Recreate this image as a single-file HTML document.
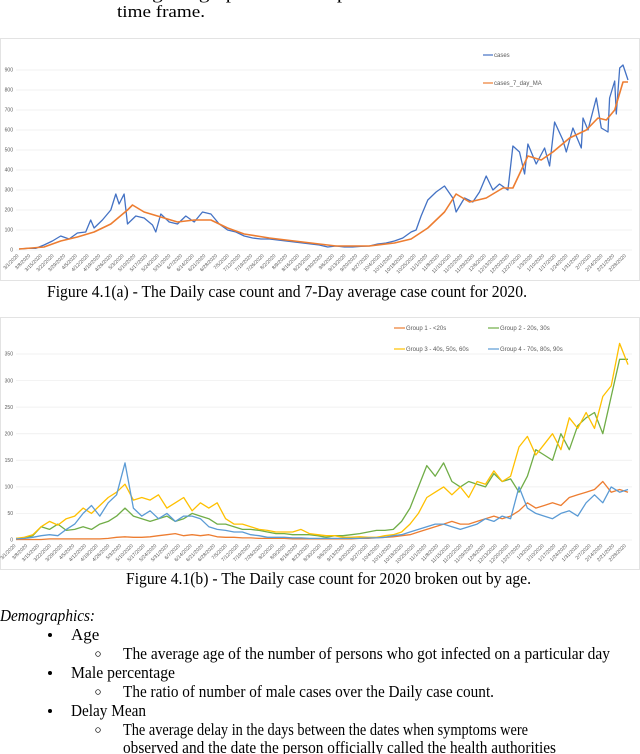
<!DOCTYPE html>
<html><head><meta charset="utf-8"><style>
html,body{margin:0;padding:0;background:#fff;width:640px;height:754px;overflow:hidden}
svg{display:block}
.doc{font-family:"Liberation Serif",serif;fill:#000}
.tk{font-family:"Liberation Sans",sans-serif;font-size:5px;fill:#595959}
.lg{font-family:"Liberation Sans",sans-serif;font-size:6px;fill:#595959}
</style></head><body>
<svg id="page" width="640" height="754" viewBox="0 0 640 754" xmlns="http://www.w3.org/2000/svg">
<text class="doc" x="117" y="-1" font-size="17" textLength="400" lengthAdjust="spacingAndGlyphs">using the graph to see the performance over the</text>
<text class="doc" x="117" y="17" font-size="17" textLength="88" lengthAdjust="spacingAndGlyphs">time frame.</text>

<g id="chartA">
<rect x="0.5" y="38.5" width="639" height="242" fill="#fff" stroke="#e3e3e3"/>
<g id="gridA"></g><g id="xlabA"></g><g id="linesA"></g>
<line x1="483" y1="55" x2="493" y2="55" stroke="#4472c4" stroke-width="1.2"/>
<text class="lg" x="494" y="57">cases</text>
<line x1="483" y1="83" x2="493" y2="83" stroke="#ed7d31" stroke-width="1.2"/>
<text class="lg" x="494" y="85">cases_7_day_MA</text>
</g>
<text class="doc" x="47" y="297" font-size="17" textLength="480" lengthAdjust="spacingAndGlyphs">Figure 4.1(a) - The Daily case count and 7-Day average case count for 2020.</text>

<g id="chartB">
<rect x="0.5" y="317.5" width="639" height="252" fill="#fff" stroke="#e3e3e3"/>
<g id="gridB"></g><g id="xlabB"></g><g id="linesB"></g>
<line x1="394" y1="328" x2="405" y2="328" stroke="#ed7d31" stroke-width="1.2"/>
<text class="lg" x="406" y="330">Group 1 - &lt;20s</text>
<line x1="488" y1="328" x2="499" y2="328" stroke="#70ad47" stroke-width="1.2"/>
<text class="lg" x="500" y="330">Group 2 - 20s, 30s</text>
<line x1="394" y1="349" x2="405" y2="349" stroke="#ffc000" stroke-width="1.2"/>
<text class="lg" x="406" y="351">Group 3 - 40s, 50s, 60s</text>
<line x1="488" y1="349" x2="499" y2="349" stroke="#5b9bd5" stroke-width="1.2"/>
<text class="lg" x="500" y="351">Group 4 - 70s, 80s, 90s</text>
</g>
<text class="doc" x="126" y="584" font-size="17" textLength="405" lengthAdjust="spacingAndGlyphs">Figure 4.1(b) - The Daily case count for 2020 broken out by age.</text>

<g>
<text class="doc" x="0" y="621" font-size="17" font-style="italic" textLength="95" lengthAdjust="spacingAndGlyphs">Demographics:</text>
<circle cx="50" cy="635" r="2" fill="#000"/>
<text class="doc" x="71" y="640" font-size="17">Age</text>
<circle cx="98" cy="654" r="2.3" fill="none" stroke="#000" stroke-width="0.7"/>
<text class="doc" x="123" y="659" font-size="17" textLength="487" lengthAdjust="spacingAndGlyphs">The average age of the number of persons who got infected on a particular day</text>
<circle cx="50" cy="673" r="2" fill="#000"/>
<text class="doc" x="71" y="678" font-size="17" textLength="104" lengthAdjust="spacingAndGlyphs">Male percentage</text>
<circle cx="98" cy="692" r="2.3" fill="none" stroke="#000" stroke-width="0.7"/>
<text class="doc" x="123" y="697" font-size="17" textLength="371" lengthAdjust="spacingAndGlyphs">The ratio of number of male cases over the Daily case count.</text>
<circle cx="50" cy="711" r="2" fill="#000"/>
<text class="doc" x="71" y="716" font-size="17" textLength="75" lengthAdjust="spacingAndGlyphs">Delay Mean</text>
<circle cx="98" cy="730" r="2.3" fill="none" stroke="#000" stroke-width="0.7"/>
<text class="doc" x="123" y="735" font-size="17" textLength="405" lengthAdjust="spacingAndGlyphs">The average delay in the days between the dates when symptoms were</text>
<text class="doc" x="123" y="753" font-size="17" textLength="433" lengthAdjust="spacingAndGlyphs">observed and the date the person officially called the health authorities</text>
</g>
</svg>
<script>
// ---- Chart A data ----
const casesDays=[0,5,10,15,20,25,30,35,40,43,45,50,55,58,60,63,65,70,75,80,82,85,90,95,100,105,110,115,120,125,130,135,140,145,150,155,160,165,170,175,180,185,190,195,200,205,210,215,220,225,230,235,238,241,245,250,255,260,262,267,272,276,280,284,288,293,296,300,303,305,310,315,318,321,326,328,332,337,338,341,346,349,353,354,357,358,360,362,365];
const casesVals=[5,8,8,25,45,70,55,85,90,150,110,150,200,280,230,280,130,170,160,125,90,180,140,130,170,140,190,180,130,100,90,70,60,55,55,50,45,40,35,30,25,15,20,15,15,18,20,30,35,45,60,90,100,170,250,290,320,260,190,260,240,290,370,300,330,300,520,490,380,530,430,510,420,640,550,490,610,510,660,600,760,610,590,760,845,680,910,925,850];
const maDays=[0,15,25,35,45,55,65,68,75,85,95,105,115,125,135,150,170,190,210,225,235,245,255,262,270,280,290,296,305,313,320,330,340,347,352,357,362,365];
const maVals=[5,15,45,65,90,130,200,225,190,165,140,150,150,110,80,60,40,20,20,35,55,110,190,280,240,260,310,310,470,450,490,560,600,660,650,700,840,840];
const yTicksA=[0,100,200,300,400,500,600,700,800,900];
// ---- Chart B data ----
const bDays=[];for(let d=0;d<=365;d+=5)bDays.push(d);
const group1=[1,1,1,1,2,2,2,2,2,2,2,3, 5,6,5,5,6,8,10,12,8,10,8,10, 6,5,5,4,4,3,3,3,3,2,2,2, 2,2,2,2,2,3,3,4,5,6,8,10, 15,20,25,30,35,30,30,35,40,45,40,45, 55,70,60,65,70,65,80,85,90,95,110,90,95,90];
const group2=[3,3,8,25,20,30,18,20,25,20,30,35, 45,60,45,40,35,40,45,35,40,50,45,40, 30,30,25,20,20,18,15,12,12,10,10,10, 8,5,8,8,10,12,15,18,18,20,35,60, 100,140,120,145,110,100,110,105,100,125,110,115, 90,120,170,160,150,200,170,215,230,240,200,270,340,340];
const group3=[3,5,10,25,35,28,40,45,60,50,65,80, 90,105,75,80,75,85,60,70,80,55,70,60, 70,40,30,30,25,20,18,15,15,15,20,12, 10,8,8,5,5,6,5,5,8,10,15,30, 50,80,90,100,85,100,80,110,105,130,110,120, 175,195,160,180,200,170,230,210,240,210,270,290,370,330];
const group4=[2,3,5,8,10,8,20,30,50,65,45,70, 85,145,60,45,55,40,50,35,45,45,40,25, 20,18,15,15,10,8,5,5,5,4,4,3, 3,3,3,3,3,3,4,4,5,8,10,15, 20,25,30,30,25,20,25,30,40,35,45,40, 100,60,50,45,40,50,55,45,70,85,70,100,90,95];
const yTicksB=[0,50,100,150,200,250,300,350];
const dateLabels=[];
(function(){const s=new Date(2020,2,1);for(let i=0;i<53;i++){const d=new Date(s.getTime()+i*7*864e5);dateLabels.push((d.getMonth()+1)+'/'+d.getDate()+'/2020');}})();

const NS='http://www.w3.org/2000/svg';
function mk(t,a){const e=document.createElementNS(NS,t);for(const k in a)e.setAttribute(k,a[k]);return e;}
const xA=d=>19+d/365*609;
const yA=v=>250-v*0.2;
const xB=d=>16+d/365*612;
const yB=v=>540-v*(186/350);

function grid(g,ticks,yf,name){
  ticks.forEach(t=>{
    const l=mk('line',{x1:16,x2:632,y1:yf(t),y2:yf(t),stroke:'#ececec','stroke-width':0.7});
    
    
    g.appendChild(l);
    const tx=mk('text',{x:13,y:yf(t)+1.7,'text-anchor':'end',class:'tk'});
    tx.textContent=t;
    
    
    g.appendChild(tx);
  });
}
function xlabels(g,xf,y0,name){
  dateLabels.forEach((lab,i)=>{
    const x=xf(i*7);
    const tx=mk('text',{x:x,y:y0,'text-anchor':'end',class:'tk',transform:'rotate(-45 '+x+' '+y0+')'});
    tx.textContent=lab;
    
    
    g.appendChild(tx);
  });
}
function line(g,days,vals,xf,yf,color,name,w){
  const pts=days.map((d,i)=>xf(d).toFixed(1)+','+yf(vals[i]).toFixed(1)).join(' ');
  const p=mk('polyline',{points:pts,fill:'none',stroke:color,'stroke-width':w,'stroke-linejoin':'round'});
  
  
  g.appendChild(p);
}
grid(document.getElementById('gridA'),yTicksA,yA,'chart-a');
xlabels(document.getElementById('xlabA'),xA,256,'chart-a');
const la=document.getElementById('linesA');
line(la,casesDays,casesVals,xA,yA,'#4472c4','cases-line',1.3);
line(la,maDays,maVals,xA,yA,'#ed7d31','cases-7-day-ma-line',1.6);

grid(document.getElementById('gridB'),yTicksB,yB,'chart-b');
xlabels(document.getElementById('xlabB'),xB,546,'chart-b');
const lb=document.getElementById('linesB');
line(lb,bDays,group2,xB,yB,'#70ad47','group2-line',1.3);
line(lb,bDays,group3,xB,yB,'#ffc000','group3-line',1.3);
line(lb,bDays,group1,xB,yB,'#ed7d31','group1-line',1.3);
line(lb,bDays,group4,xB,yB,'#5b9bd5','group4-line',1.3);
</script>
</body></html>
